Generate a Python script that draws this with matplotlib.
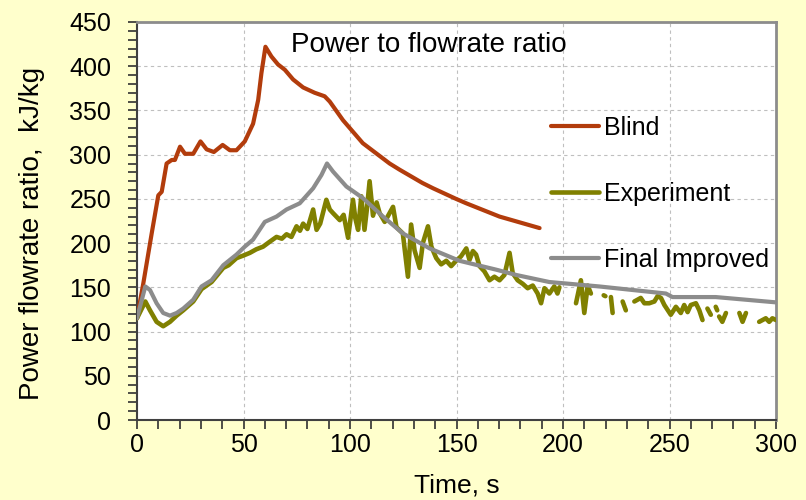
import numpy as np
import matplotlib
matplotlib.use("Agg")
import matplotlib.pyplot as plt
from matplotlib.ticker import MultipleLocator

plt.rcParams['font.family'] = ['Liberation Sans', 'DejaVu Sans']

# ---- data ----
blind_t = [0, 3, 6.9, 10, 11.6, 13.9, 16.3, 17.8, 20.2, 22.5, 26.4, 29.8, 32.7, 36.1,
           40.2, 43.6, 46.7, 50.6, 54.5, 56.9, 58.4, 60.3, 63.1, 66.2, 69.4, 73.3, 78,
           83.4, 88.1, 90.5, 96.7, 106, 118.6, 123.3, 134, 139, 149.8, 154.6, 170.2, 189]
blind_y = [115, 155, 211, 254, 258, 290, 294, 294, 309, 301, 301, 315, 306, 303,
           311, 305, 305, 315, 335, 362, 392, 422, 411, 402, 396, 385, 376,
           370, 366, 360, 339, 313, 290, 283, 268, 262, 250, 245, 230, 217]

improved_t = [0, 3.9, 6.1, 9.2, 12.3, 15.5, 18.6, 21.7, 26.4, 30.3, 35, 40.5, 46.7,
              50.6, 54.5, 60, 65.5, 70.2, 76.4, 82.7, 86.6, 89.2, 92, 98.3, 106, 115.5,
              124.8, 137.4, 151.4, 168.6, 178, 193.6, 217, 248.3, 251.4, 271.7, 300]
improved_y = [115, 151, 147, 132, 121, 118, 121, 126, 136, 151, 158, 175, 187,
              196, 204, 224, 230, 238, 245, 262, 277, 290, 281, 264, 251, 230,
              211, 194, 180, 170, 164, 156, 151, 143, 139, 139, 133]

nan = np.nan
experiment_t = [0, 3.9, 6.1, 9.2, 12.3, 15.5, 18.6, 21.7, 26.4, 30.3, 35, 40.5, 43, 46.7,
                50, 53, 56, 59.2, 62, 65.5, 68, 70.2, 72.5, 74.9, 76.5, 78, 80, 82.7,
                84.3, 86, 88.9, 90.5, 92, 95.2, 97, 99.1, 101.4, 102.5, 103.8, 105.3,
                106.8, 108, 109.2, 110.8, 112.5, 113.9, 116.3, 118.6, 120.2, 121.8,
                124.8, 127.2, 128.7, 130.3, 132.7, 134.2, 136.6, 138.2, 140.5, 142.8,
                145.2, 147.5, 149.8, 152.1, 154.6, 156.1, 157.7, 159.2, 160.8, 163.1,
                165.5, 167.8, 170.2, 172.5, 174.9, 176.4, 178.7, 181.1, 183.4, 185.8,
                188.1, 189.7, 191.3, 193.6, 195.9, 197.4, 198.3,
                202,
                206.1, 208.4, 210, 211.6, 213.1,
                216,
                219.1, 219.9,
                221,
                222.5, 223.3,
                226,
                228, 229.5,
                231.5,
                233.5, 236.5, 238.2, 240.5, 242.9, 244.4, 246, 247.6, 250.6, 253,
                255.3, 256.9, 258.5, 260, 262.4, 264, 265.5,
                266.6,
                267.8, 269.4,
                270.5,
                271.7, 272.4,
                272.9,
                273.3, 274.8, 276.5,
                279.5,
                282.8, 284.3, 285.9,
                289,
                292.1, 293.6, 295.2, 296.8, 298.3, 300]
experiment_y = [115, 134, 124, 111, 106, 111, 118, 124, 134, 148, 156, 172, 175, 183,
                186, 189, 193, 196, 201, 207, 205, 210, 207, 219, 214, 222, 216, 238,
                215, 222, 249, 238, 234, 226, 232, 206, 249, 228, 215, 253,
                215, 240, 270, 231, 246, 234, 224, 234, 241, 218,
                211, 162, 221, 192, 172, 200, 219, 196, 183, 176,
                180, 174, 180, 185, 194, 181, 191, 187, 174, 168,
                158, 162, 158, 164, 189, 166, 158, 154, 149, 152,
                143, 132, 149, 143, 151, 143, 150,
                nan,
                132, 158, 121, 152, 143,
                nan,
                141, 140,
                nan,
                139, 121,
                nan,
                134, 124,
                nan,
                134, 138, 132, 132, 134, 140, 138, 130, 119, 128,
                121, 130, 122, 130, 132, 124, 113,
                nan,
                126, 119,
                nan,
                128, 124,
                nan,
                117, 111, 121,
                nan,
                121, 111, 121,
                nan,
                111, 113, 115, 111, 115, 113]

labels = ["Blind", "Experiment", "Final Improved"]
colors = ["#B23C0C", "#808000", "#8C8C8C"]

fig = plt.figure(figsize=(8.06, 5.0), dpi=100, facecolor="#FFFFCC")
ax = fig.add_axes([137/806, 1-420/500, (776-137)/806, (420-22)/500])
ax.set_facecolor("white")

ax.plot(blind_t, blind_y, color=colors[0], lw=3.0, solid_joinstyle='round',
        solid_capstyle='round', label=labels[0], zorder=3)
ax.plot(experiment_t, experiment_y, color=colors[1], lw=3.3, solid_joinstyle='round',
        solid_capstyle='round', label=labels[1], zorder=3)
ax.plot(improved_t, improved_y, color=colors[2], lw=3.0, solid_joinstyle='round',
        solid_capstyle='round', label=labels[2], zorder=4)

ax.set_xlim(0, 300)
ax.set_ylim(0, 450)
ax.xaxis.set_major_locator(MultipleLocator(50))
ax.xaxis.set_minor_locator(MultipleLocator(10))
ax.yaxis.set_major_locator(MultipleLocator(50))
ax.yaxis.set_minor_locator(MultipleLocator(10))

ax.grid(True, which='major', color="#BFBFBF", lw=0.8, ls=(0, (3, 3)), zorder=0)
ax.tick_params(axis='both', which='both', direction='out', length=6.5, width=1.2,
               color="#303030", labelsize=18)
ax.tick_params(axis='y', which='major', pad=12)
ax.tick_params(axis='x', which='major', pad=3)

for s in ['left', 'bottom']:
    ax.spines[s].set_color("#404040")
    ax.spines[s].set_linewidth(1.5)
for s in ['top', 'right']:
    ax.spines[s].set_color("#8C8C8C")
    ax.spines[s].set_linewidth(2.0)

ax.set_xlabel("Time, s", fontsize=19)
ax.xaxis.label.set_va('center')
ax.xaxis.set_label_coords(0.5, (420-485)/398)
ax.set_ylabel("Power flowrate ratio,  kJ/kg", fontsize=20)
ax.yaxis.label.set_va('center')
ax.yaxis.set_label_coords((32-137)/640, (420-233)/398)

ax.text((429-137)/640, (420-45)/398, "Power to flowrate ratio", fontsize=20,
        ha='center', va='center', transform=ax.transAxes)

leg = ax.legend(loc='center left', bbox_to_anchor=(551/806, 1-194/500),
                bbox_transform=fig.transFigure, frameon=False, fontsize=18,
                handlelength=1.9, handletextpad=0.2, labelspacing=1.68,
                borderpad=0, borderaxespad=0)

fig.savefig("out.png", dpi=100, facecolor=fig.get_facecolor())
